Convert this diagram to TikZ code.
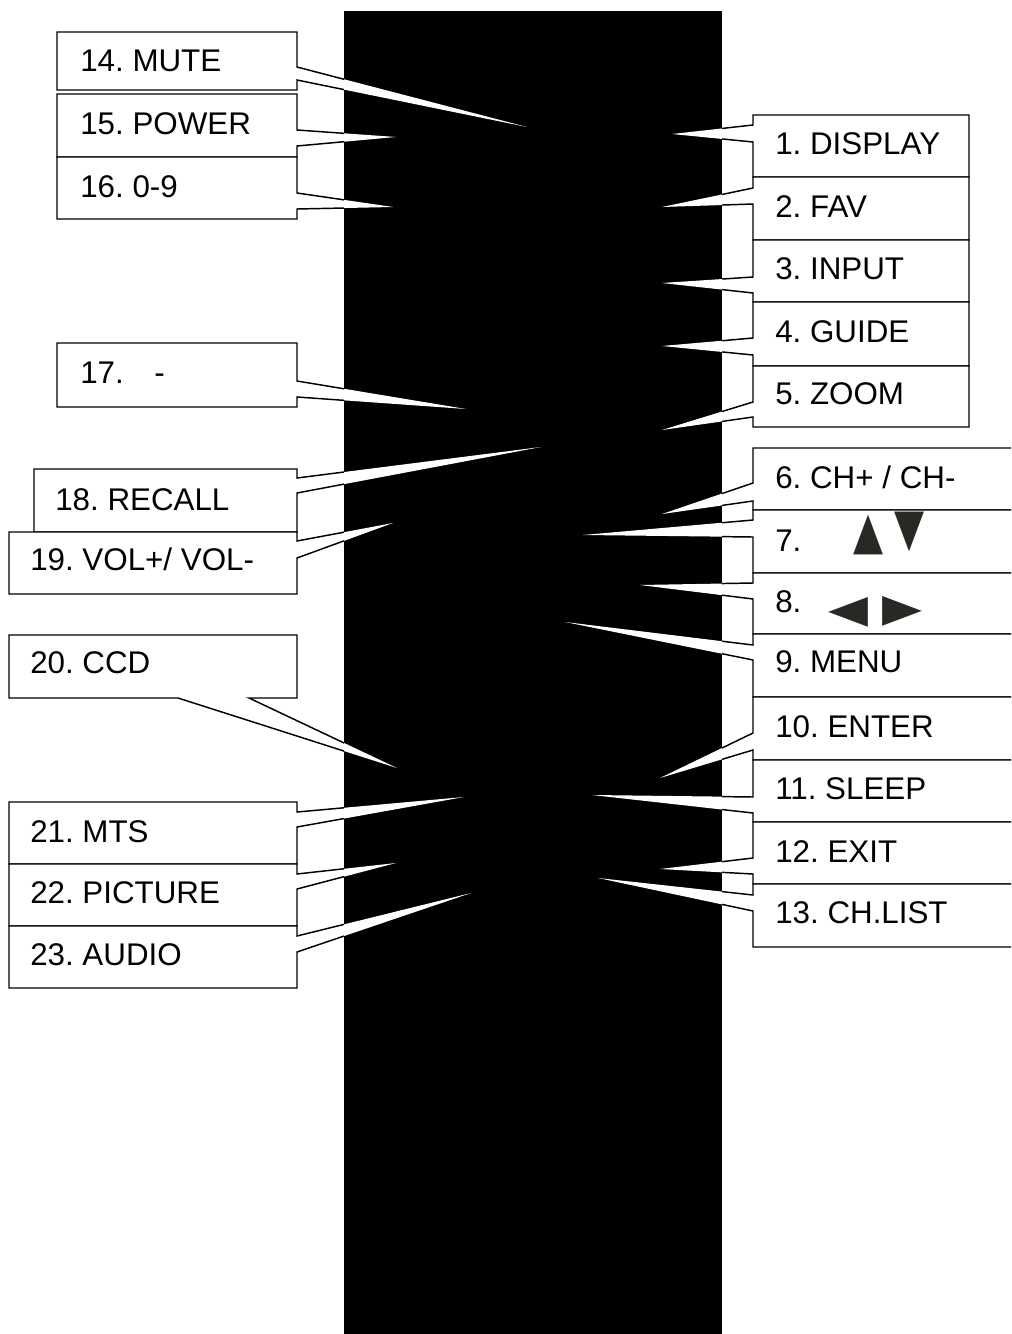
\documentclass[tikz,border=0pt]{standalone}
\usepackage{fontspec}
\setmainfont{Liberation Sans}
\newfontfamily\symfont{DejaVu Sans}
\definecolor{keygray}{RGB}{42,40,36}
\newcommand{\keyfont}{\fontsize{23.5}{27}\selectfont\frenchspacing}

\begin{document}
\begin{tikzpicture}[x=0.75pt, y=-0.75pt]
	\tikzstyle{callout} = [draw, fill=white, line width=1.1pt, line join=miter]
	\tikzstyle{key} = [anchor=base west, inner sep=0pt, font=\keyfont]
	\tikzstyle{arrowkey} = [inner sep=0pt, text=keygray, font=\symfont\fontsize{39}{39}\selectfont]
	\def\lx{297}
	\def\rx{753}
	\def\leftlist{57/32/90/67/80/527/127, 57/94/157/130/146/396/137,
		57/157/219/193/209/393/207, 57/343/407/381/397/466/409, 34/469/532/478/493/541/447,
		9/532/594/541/558/393/523, 9/802/864/812/827/464/797, 9/864/926/874/889/396/863,
		9/926/988/936/952/471/893}
	\def\rightlist{969/115/177/125/142/672/134, 969/177/240/188/204/662/207,
		969/240/302/277/293/662/283, 969/302/366/338/355/662/346, 969/366/427/402/417/662/430,
		1040/448/510/483/501/662/514, 1040/510/573/520/537/583/535, 1040/573/634/583/599/640/585,
		1040/634/697/645/660/565/622, 1040/697/760/733/750/660/778, 1040/760/822/797/813/592/795,
		1040/822/884/858/874/660/869, 1040/884/947/895/911/598/878}

	\clip (0,0) rectangle (1011,1334);
	\fill[black] (344,11) rectangle (722,1340);

	%left side
	\foreach \x/\ya/\yb/\ga/\gb/\tx/\ty in \leftlist
		\draw[callout] (\x,\ya) -- (\lx,\ya) -- (\lx,\ga) -- (\tx,\ty) -- (\lx,\gb) -- (\lx,\yb) -- (\x,\yb) -- cycle;
	\draw[callout] (9,635) -- (\lx,635) -- (\lx,698) -- (249,698) -- (397,768) -- (178,698) -- (9,698) -- cycle;

	%right side
	\foreach \xb/\ya/\yb/\ga/\gb/\tx/\ty in \rightlist
		\draw[callout] (\rx,\ya) -- (\xb,\ya) -- (\xb,\yb) -- (\rx,\yb) -- (\rx,\gb) -- (\tx,\ty) -- (\rx,\ga) -- cycle;

	%wedges inside the black part
	\begin{scope}
		\clip (344,11) rectangle (722,1340);
		\foreach \x/\ya/\yb/\ga/\gb/\tx/\ty in \leftlist
			\fill[white] (\lx,\ga) -- (\tx,\ty) -- (\lx,\gb) -- cycle;
		\fill[white] (249,698) -- (397,768) -- (178,698) -- cycle;
		\foreach \xb/\ya/\yb/\ga/\gb/\tx/\ty in \rightlist
			\fill[white] (\rx,\gb) -- (\tx,\ty) -- (\rx,\ga) -- cycle;
	\end{scope}

	%labels
	\foreach \name/\x/\y/\txt in {k14/80/72/{14. MUTE}, k15/80/135/{15. POWER}, k16/80/197/{16. 0-9},
		k17/80/383/{17. \hspace{0.7em}-}, k18/55/510/{18. RECALL}, k19/30/570/{19. VOL+/ VOL-},
		k20/30/673/{20. CCD}, k21/30/842/{21. MTS}, k22/30/903/{22. PICTURE}, k23/30/965/{23. AUDIO}}
		\node[key] (\name) at (\x,\y) {\txt};

	\foreach \name/\y/\txt in {k1/155/{1. DISPLAY}, k2/217/{2. FAV}, k3/279/{3. INPUT}, k4/342/{4. GUIDE},
		k5/404/{5. ZOOM}, k6/488/{6. CH+ / CH-}, k7/551/{7.}, k8/612/{8.}, k9/672/{9. MENU},
		k10/737/{10. ENTER}, k11/799/{11. SLEEP}, k12/862/{12. EXIT}, k13/923/{13. CH.LIST}}
		\node[key] (\name) at (775,\y) {\txt};

	\node[arrowkey] (up) at (868,535) {\scalebox{0.75}[1]{▲}};
	\node[arrowkey, fill=white] (down) at (909,532) {\scalebox{0.75}[1]{▼}};
	\node[arrowkey] (left) at (848,612) {\scalebox{1}[0.75]{◀}};
	\node[arrowkey] (right) at (902,611) {\scalebox{1}[0.75]{▶}};
\end{tikzpicture}
\end{document}
